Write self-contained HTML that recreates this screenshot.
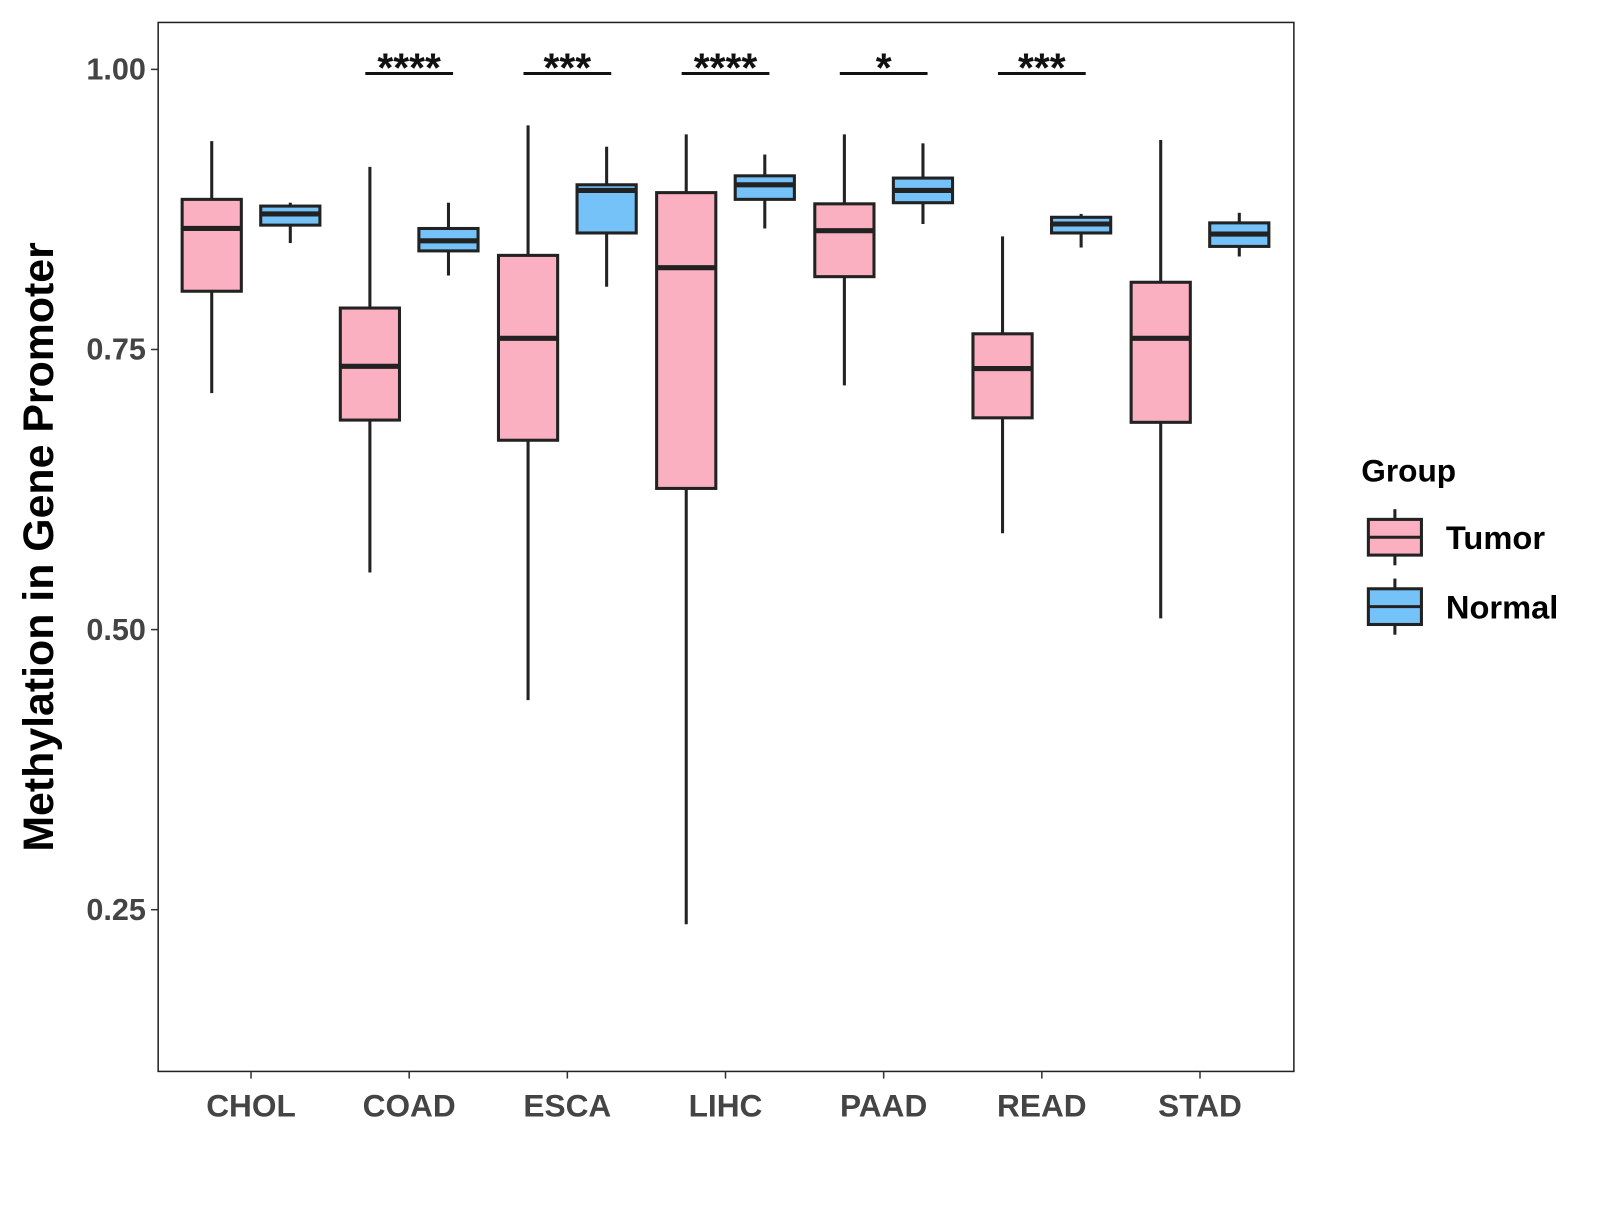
<!DOCTYPE html>
<html><head><meta charset="utf-8"><style>
html,body{margin:0;padding:0;background:#fff;}
svg text{font-family:"Liberation Sans",Arial,sans-serif;font-weight:bold;}
</style></head><body>
<svg id="chart" width="1600" height="1200" viewBox="0 0 1568 1176" xmlns="http://www.w3.org/2000/svg">
<rect x="0" y="0" width="1568" height="1176" fill="#fff"/>
<g id="plot"></g>
</svg>
<script>
const categories=["CHOL","COAD","ESCA","LIHC","PAAD","READ","STAD"];
// [low, q1, median, q3, high]
const tumorStats=[[0.711,0.802,0.858,0.884,0.936],[0.551,0.687,0.735,0.787,0.913],[0.437,0.669,0.760,0.834,0.950],[0.237,0.626,0.823,0.890,0.942],[0.718,0.815,0.856,0.880,0.942],[0.586,0.689,0.733,0.764,0.851],[0.510,0.685,0.760,0.810,0.937]];
const normalStats=[[0.845,0.861,0.871,0.878,0.881],[0.816,0.838,0.847,0.858,0.881],[0.806,0.854,0.892,0.897,0.931],[0.858,0.884,0.897,0.905,0.924],[0.862,0.881,0.892,0.903,0.934],[0.841,0.854,0.862,0.868,0.871],[0.833,0.842,0.853,0.863,0.872]];
const signif=["","****","***","****","*","***",""];
const yTicks=[0.25,0.50,0.75,1.00];
const yTickLabels=["0.25","0.50","0.75","1.00"];

const NS="http://www.w3.org/2000/svg";
const g=document.getElementById('plot');
const L=155,R=1268,T=22,B=1050;
function y(v){return 68+(1-v)*1098;}
function x(i){return 246+i*155;}
function mk(tag,attrs,parent){const e=document.createElementNS(NS,tag);for(const k in attrs)e.setAttribute(k,attrs[k]);(parent||g).appendChild(e);return e;}

const panel=mk('rect',{x:L,y:T,width:R-L,height:B-T,fill:'#fff',stroke:'#222','stroke-width':1.5});



yTicks.forEach((v,i)=>{
  const t=mk('line',{x1:L-7,x2:L,y1:y(v),y2:y(v),stroke:'#333','stroke-width':1.5});
  
  
  const l=mk('text',{x:L-12,y:y(v)+10,'text-anchor':'end','font-size':30,fill:'#444'});
  l.textContent=yTickLabels[i];
  
  
});
categories.forEach((c,i)=>{
  const t=mk('line',{x1:x(i),x2:x(i),y1:B,y2:B+7,stroke:'#333','stroke-width':1.5});
  
  
  const l=mk('text',{x:x(i),y:B+44,'text-anchor':'middle','font-size':31,fill:'#444'});
  l.textContent=c;
  
  
});

function box(cx,s,fill,name){
  const gg=mk('g',{});
  
  
  const w=58;
  mk('line',{x1:cx,x2:cx,y1:y(s[0]),y2:y(s[1]),stroke:'#222','stroke-width':3},gg);
  mk('line',{x1:cx,x2:cx,y1:y(s[3]),y2:y(s[4]),stroke:'#222','stroke-width':3},gg);
  mk('rect',{x:cx-w/2,y:y(s[3]),width:w,height:y(s[1])-y(s[3]),fill:fill,stroke:'#222','stroke-width':3},gg);
  mk('line',{x1:cx-w/2,x2:cx+w/2,y1:y(s[2]),y2:y(s[2]),stroke:'#222','stroke-width':5},gg);
}
categories.forEach((c,i)=>{
  box(x(i)-38.5,tumorStats[i],'#FBB0C1','tumor-box-'+c.toLowerCase());
  box(x(i)+38.5,normalStats[i],'#75C2F8','normal-box-'+c.toLowerCase());
  if(signif[i]){
    const b=mk('line',{x1:x(i)-43,x2:x(i)+43,y1:72,y2:72,stroke:'#111','stroke-width':3});
    
    
    const t=mk('text',{x:x(i),y:80,'text-anchor':'middle','font-size':40,fill:'#111'});
    t.textContent=signif[i];
    
    
  }
});

const yt=mk('text',{x:0,y:0,'text-anchor':'middle','font-size':42,fill:'#000',transform:'translate(52,536) rotate(-90)'});
yt.textContent='Methylation in Gene Promoter';



const lt=mk('text',{x:1334,y:472,'font-size':31,fill:'#000'});
lt.textContent='Group';


[['Tumor','#FBB0C1',509],['Normal','#75C2F8',577]].forEach(([n,f,yy])=>{
  const e=mk('g',{});
  
  
  mk('line',{x1:1367,x2:1367,y1:yy-10,y2:yy+45,stroke:'#222','stroke-width':3},e);
  mk('rect',{x:1341,y:yy,width:52,height:35,fill:f,stroke:'#222','stroke-width':3},e);
  mk('line',{x1:1341,x2:1393,y1:yy+17.5,y2:yy+17.5,stroke:'#222','stroke-width':3},e);
  const t=mk('text',{x:1417,y:yy+29,'font-size':32,fill:'#000'},e);
  t.textContent=n;
});
</script>
</body></html>
